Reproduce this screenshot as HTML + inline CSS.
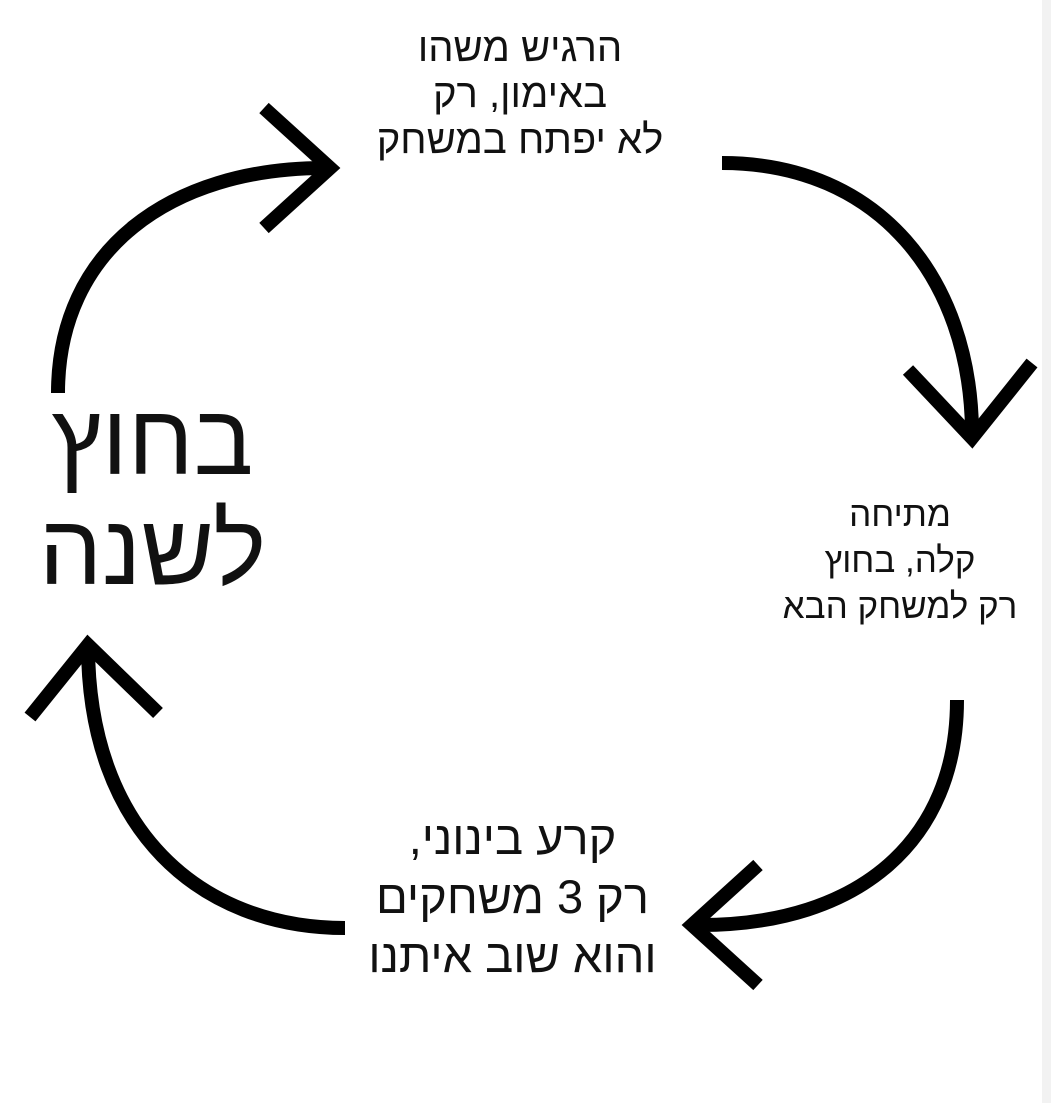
<!DOCTYPE html>
<html><head><meta charset="utf-8"><style>
html,body{margin:0;padding:0;background:#fff;width:1051px;height:1103px;overflow:hidden;position:relative;font-family:"Liberation Sans","DejaVu Sans",sans-serif;}
.t{position:absolute;direction:rtl;text-align:center;color:#111;white-space:nowrap;}
</style></head><body>
<div style="position:absolute;left:1042px;top:0;width:9px;height:1103px;background:#f2f2f2"></div>
<svg width="1051" height="1103" style="position:absolute;left:0;top:0" fill="none" stroke="#000" stroke-width="14">
<path d="M58 393 C58 250 170 168 325 168" />
<path d="M264 108 L330 168 L264 228" stroke-linejoin="miter"/>
<path d="M722 163 C880 163 970 280 972 430" />
<path d="M908 370 L972 438 L1032 363" />
<path d="M957 700 C957 840 860 925 700 925" />
<path d="M758 865 L692 925 L758 985" />
<path d="M345 928 C200 928 88 830 88 645" />
<path d="M30 717 L88 645 L158 713" />
</svg>
<div class="t" style="left:320px;width:400px;top:25px;font-size:40px;line-height:46px;">הרגיש משהו<br>באימון, רק<br>לא יפתח במשחק</div>
<div class="t" style="left:0px;width:305px;top:385px;font-size:100px;line-height:110px;">בחוץ<br>לשנה</div>
<div class="t" style="left:760px;width:280px;top:492px;font-size:35px;line-height:46px;">מתיחה<br>קלה, בחוץ<br>רק למשחק הבא</div>
<div class="t" style="left:300px;width:425px;top:808px;font-size:47px;line-height:59px;">קרע בינוני,<br>רק 3 משחקים<br>והוא שוב איתנו</div>
</body></html>
